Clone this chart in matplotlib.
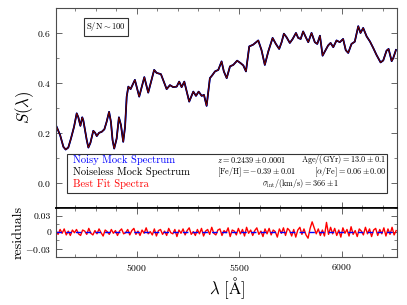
import matplotlib
matplotlib.use("Agg")
import matplotlib.pyplot as plt
import numpy as np
from matplotlib.patches import Rectangle
from matplotlib.ticker import MultipleLocator

plt.rcParams["font.family"] = "serif"
plt.rcParams["font.serif"] = ["cmr10", "DejaVu Serif"]
plt.rcParams["mathtext.fontset"] = "cm"
plt.rcParams["axes.formatter.use_mathtext"] = True

# spectrum (wavelength in Angstrom, S(lambda))
wave = [4609, 4626, 4642, 4653, 4666, 4679, 4694, 4707, 4715, 4725, 4734, 4739,
        4756, 4764, 4774, 4788, 4797, 4805, 4816, 4829, 4842, 4853, 4865, 4874,
        4882, 4890, 4902, 4913, 4923, 4934, 4943, 4951, 4959, 4970, 4991, 5012,
        5037, 5056, 5085, 5097, 5118, 5146, 5162, 5178, 5195, 5207, 5219, 5232,
        5244, 5256, 5276, 5289, 5302, 5317, 5328, 5341, 5357, 5368, 5382, 5398,
        5414, 5425, 5439, 5455, 5471, 5490, 5507, 5520, 5533, 5549, 5568, 5593,
        5609, 5625, 5642, 5663, 5679, 5695, 5707, 5718, 5731, 5747, 5761, 5777,
        5788, 5800, 5812, 5825, 5837, 5853, 5869, 5881, 5894, 5907, 5918, 5934,
        5946, 5959, 5975, 5991, 6007, 6020, 6032, 6048, 6064, 6081, 6092, 6105,
        6122, 6138, 6154, 6170, 6190, 6203, 6219, 6229, 6244, 6252, 6265]
flux = [0.224, 0.191, 0.144, 0.133, 0.141, 0.177, 0.224, 0.278, 0.262, 0.228, 0.262, 0.251,
        0.171, 0.141, 0.160, 0.208, 0.200, 0.187, 0.200, 0.204, 0.214, 0.244, 0.284, 0.244,
        0.171, 0.137, 0.177, 0.262, 0.231, 0.164, 0.224, 0.345, 0.385, 0.375, 0.412, 0.345,
        0.423, 0.361, 0.452, 0.440, 0.435, 0.375, 0.391, 0.383, 0.385, 0.405, 0.383, 0.405,
        0.365, 0.325, 0.365, 0.348, 0.365, 0.348, 0.352, 0.308, 0.419, 0.430, 0.446, 0.452,
        0.486, 0.446, 0.419, 0.466, 0.472, 0.489, 0.479, 0.470, 0.446, 0.546, 0.553, 0.570,
        0.531, 0.472, 0.526, 0.580, 0.556, 0.536, 0.563, 0.597, 0.583, 0.560, 0.576, 0.600,
        0.580, 0.576, 0.606, 0.583, 0.563, 0.600, 0.563, 0.556, 0.589, 0.509, 0.526, 0.550,
        0.560, 0.543, 0.570, 0.563, 0.576, 0.531, 0.520, 0.556, 0.565, 0.627, 0.600, 0.620,
        0.586, 0.566, 0.540, 0.512, 0.482, 0.490, 0.529, 0.536, 0.487, 0.500, 0.532]

# residuals (units of 1e-3), sampled every 10 A from 4606 A
res_wave = np.arange(4606, 6270, 10)
resid = np.array([
    3, -4, 5, -2, 6, -5, 2, -6, 4, -1,
    5, -3, -6, 4, 2, -4, 7, -2, -5, 3,
    -3, 6, -1, -7, 4, 1, -4, 5, -2, 3,
    -6, 2, 6, -3, -1, 5, -5, 3, 7, -4,
    2, -6, 4, -2, 8, -3, 1, -5, 6, -7,
    3, 5, -4, 2, -6, 7, -1, -3, 5, -8,
    4, -2, 6, -5, 3, 8, -4, 1, -6, 5,
    -3, 7, -7, 2, 5, -4, 9, -2, -5, 4,
    6, -6, 3, -1, 8, -8, 4, 2, -5, 7,
    -3, 5, -7, 9, -2, 4, -6, 3, 8, -4,
    2, -8, 6, -3, 7, -5, 4, 1, -9, 6,
    -2, 8, -6, 7, 3, -7, 5, -9, 4, 9,
    -4, 6, -5, -11, 7, 19, 8, -3, 6, -6,
    4, -7, 18, -4, 9, -3, 7, -6, 4, -9,
    8, -2, 5, -7, 10, -4, 3, -8, 6, 2,
    -5, 9, -3, 6, -8, 4, 7, -6, 5, -3,
    8, -7, 6, -4, 9, -5, 3]) / 1000.0

fig = plt.figure(figsize=(4.07, 3.05), dpi=100)
ax = fig.add_axes([0.1376, 0.319, 0.8378, 0.6548])
axr = fig.add_axes([0.1376, 0.1584, 0.8378, 0.1606])

ax.plot(wave, flux, color="blue", lw=1.3)
ax.plot(wave, flux, color="black", lw=1.1)
ax.plot(wave, flux, color="#c00000", lw=0.35)

axr.plot(res_wave, resid, color="red", lw=1.0)
axr.axhline(0, color="blue", lw=1.0, ls="--", dashes=(4, 3))

for a in (ax, axr):
    a.set_xlim(4606, 6270)
    a.xaxis.set_major_locator(MultipleLocator(500))
    a.xaxis.set_minor_locator(MultipleLocator(100))
    a.tick_params(which="both", direction="in", top=True, right=True,
                  labelsize=7, color="0.3")
    a.tick_params(which="major", length=4, width=0.6)
    a.tick_params(which="minor", length=2, width=0.5)
    for s in a.spines.values():
        s.set_color("0.3")
        s.set_linewidth(0.8)

ax.set_ylim(-0.1, 0.7)
ax.yaxis.set_major_locator(MultipleLocator(0.2))
ax.yaxis.set_minor_locator(MultipleLocator(0.1))
ax.tick_params(labelbottom=False)
ax.spines["bottom"].set_color("black")
ax.spines["bottom"].set_linewidth(1.2)
axr.spines["top"].set_color("black")
axr.spines["top"].set_linewidth(1.2)

axr.set_ylim(-0.045, 0.045)
axr.set_yticks([-0.03, 0, 0.03])
axr.set_yticklabels([r"$-0.03$", "0", "0.03"])
axr.yaxis.set_minor_locator(MultipleLocator(0.015))

ax.set_ylabel(r"$S(\lambda)$", fontsize=12, labelpad=1)
axr.set_ylabel("residuals", fontsize=10, labelpad=0)
axr.set_xlabel(r"$\lambda\ [\mathrm{\AA}]$", fontsize=12, labelpad=2)

# info box
ax.add_patch(Rectangle((0.031, 0.072), 0.941, 0.197, transform=ax.transAxes,
                       facecolor="white", edgecolor="0.2", lw=0.8, zorder=5))
ax.text(0.051, 0.239, "Noisy Mock Spectrum", color="blue", fontsize=7.6,
        va="center", transform=ax.transAxes, zorder=6)
ax.text(0.051, 0.177, "Noiseless Mock Spectrum", color="black", fontsize=7.6,
        va="center", transform=ax.transAxes, zorder=6)
ax.text(0.051, 0.119, "Best Fit Spectra", color="red", fontsize=7.6,
        va="center", transform=ax.transAxes, zorder=6)
ax.text(0.471, 0.239, r"$z=0.2439\pm0.0001$", fontsize=5.9,
        va="center", transform=ax.transAxes, zorder=6)
ax.text(0.968, 0.239, r"$\mathrm{Age/(GYr)}=13.0\pm0.1$", fontsize=5.9,
        va="center", ha="right", transform=ax.transAxes, zorder=6)
ax.text(0.471, 0.177, r"$\mathrm{[Fe/H]}=-0.39\pm0.01$", fontsize=5.9,
        va="center", transform=ax.transAxes, zorder=6)
ax.text(0.968, 0.177, r"$[\alpha/\mathrm{Fe}]=0.06\pm0.00$", fontsize=5.9,
        va="center", ha="right", transform=ax.transAxes, zorder=6)
ax.text(0.718, 0.119, r"$\sigma_{\rm int}/\mathrm{(km/s)}=366\pm1$", fontsize=5.9,
        va="center", ha="center", transform=ax.transAxes, zorder=6)

ax.text(0.147, 0.905, r"$\mathrm{S/N}\sim100$", fontsize=6.2, ha="center",
        va="center", transform=ax.transAxes,
        bbox=dict(boxstyle="square,pad=0.25", facecolor="white", edgecolor="0.2", lw=0.8))

fig.savefig("out.png", dpi=100)
